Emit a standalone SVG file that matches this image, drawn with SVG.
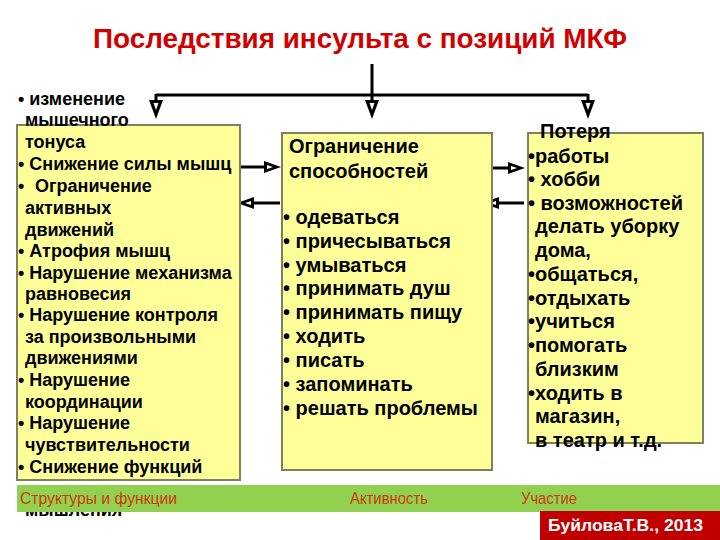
<svg xmlns="http://www.w3.org/2000/svg" width="720" height="540" viewBox="0 0 720 540">
<defs>
<style>
.box{fill:#FFFF99;stroke:#808060;stroke-width:2}
.t18{font-family:"Liberation Sans",Arial,sans-serif;font-size:18px;font-weight:bold;fill:#000}
.t20{font-family:"Liberation Sans",Arial,sans-serif;font-size:20px;font-weight:bold;fill:#000}
.ft{font-family:"Liberation Sans",Arial,sans-serif;font-size:17px;fill:#CC3A10}
.ln{fill:none;stroke:#000;stroke-width:3}
</style>
<marker id="ah" markerUnits="userSpaceOnUse" orient="auto" refX="0" refY="0" markerWidth="20" markerHeight="14" viewBox="0 -7 20 14" overflow="visible">
<path d="M0,-6 L17,0 L0,6 Z" fill="#000"/>
<path d="M3,-2 L9,0 L3,2 Z" fill="#fff"/>
</marker>
<marker id="ahd" markerUnits="userSpaceOnUse" orient="auto" refX="0" refY="0" markerWidth="20" markerHeight="16" viewBox="0 -8 20 16" overflow="visible">
<path d="M0,-7 L19,0 L0,7 Z" fill="#000"/>
<path d="M3,-2.5 L10,0 L3,2.5 Z" fill="#fff"/>
</marker>
</defs>
<rect width="720" height="540" fill="#fff"/>

<g id="title">
<text x="360" y="48" text-anchor="middle" textLength="534" lengthAdjust="spacingAndGlyphs" style="font-family:'Liberation Sans',Arial,sans-serif;font-size:27px;font-weight:bold;fill:#D00000">Последствия инсульта с позиций МКФ</text>
</g>

<g id="connectors">
<path class="ln" d="M372,64 V95"/>
<path class="ln" d="M156,95 H588"/>
<path class="ln" d="M156,94 V100" marker-end="url(#ahd)"/>
<path class="ln" d="M372,94 V100" marker-end="url(#ahd)"/>
<path class="ln" d="M588,94 V100" marker-end="url(#ahd)"/>
<path class="ln" d="M240,167 H264" marker-end="url(#ah)"/>
<path class="ln" d="M280,203 H254" marker-end="url(#ah)"/>
<path class="ln" d="M492,168 H508" marker-end="url(#ah)"/>
<path class="ln" d="M524,203 H499" marker-end="url(#ah)"/>
</g>

<g id="left-box">
<text class="t18" x="25" y="516">мышления</text>
<rect class="box" x="17" y="125" width="223" height="355"/>
<text class="t18" x="18" y="105">• изменение</text>
<text class="t18" x="25" y="126">мышечного</text>
<text class="t18" x="25" y="148">тонуса</text>
<text class="t18" x="18" y="170">• Снижение силы мышц</text>
<text class="t18" x="18" y="192">•</text>
<text class="t18" x="35" y="192">Ограничение</text>
<text class="t18" x="25" y="214">активных</text>
<text class="t18" x="25" y="236">движений</text>
<text class="t18" x="18" y="257">• Атрофия мышц</text>
<text class="t18" x="18" y="279">• Нарушение механизма</text>
<text class="t18" x="25" y="300">равновесия</text>
<text class="t18" x="18" y="321">• Нарушение контроля</text>
<text class="t18" x="25" y="343">за произвольными</text>
<text class="t18" x="25" y="364">движениями</text>
<text class="t18" x="18" y="386">• Нарушение</text>
<text class="t18" x="25" y="408">координации</text>
<text class="t18" x="18" y="429">• Нарушение</text>
<text class="t18" x="25" y="451">чувствительности</text>
<text class="t18" x="18" y="473">• Снижение функций</text>
</g>

<g id="middle-box">
<rect class="box" x="282" y="133" width="210" height="337"/>
<text class="t20" x="289" y="153">Ограничение</text>
<text class="t20" x="289" y="178">способностей</text>
<text class="t20" x="283" y="224">• одеваться</text>
<text class="t20" x="283" y="248">• причесываться</text>
<text class="t20" x="283" y="272">• умываться</text>
<text class="t20" x="283" y="295">• принимать душ</text>
<text class="t20" x="283" y="319">• принимать пищу</text>
<text class="t20" x="283" y="343">• ходить</text>
<text class="t20" x="283" y="367">• писать</text>
<text class="t20" x="283" y="391">• запоминать</text>
<text class="t20" x="283" y="415">• решать проблемы</text>
</g>

<g id="right-box">
<rect class="box" x="528" y="133" width="175" height="310"/>
<text class="t20" x="540" y="138">Потеря</text>
<text class="t20" x="528" y="163">•работы</text>
<text class="t20" x="528" y="186">• хобби</text>
<text class="t20" x="528" y="210">• возможностей</text>
<text class="t20" x="535" y="233">делать уборку</text>
<text class="t20" x="535" y="257">дома,</text>
<text class="t20" x="528" y="281">•общаться,</text>
<text class="t20" x="528" y="305">•отдыхать</text>
<text class="t20" x="528" y="328">•учиться</text>
<text class="t20" x="528" y="352">•помогать</text>
<text class="t20" x="535" y="376">близким</text>
<text class="t20" x="528" y="400">•ходить в</text>
<text class="t20" x="535" y="423">магазин,</text>
<text class="t20" x="535" y="447">в театр и т.д.</text>
</g>

<g id="footer-band">
<rect x="17" y="485" width="703" height="27" fill="#92D050"/>
<text class="ft" x="20" y="504" textLength="157" lengthAdjust="spacingAndGlyphs">Структуры  и функции</text>
<text class="ft" x="350" y="504" textLength="78" lengthAdjust="spacingAndGlyphs">Активность</text>
<text class="ft" x="521" y="504" textLength="56" lengthAdjust="spacingAndGlyphs">Участие</text>
</g>

<g id="author">
<rect x="540" y="511" width="180" height="29" fill="#C00000"/>
<text x="548" y="531" textLength="155" lengthAdjust="spacingAndGlyphs" style="font-family:'Liberation Sans',Arial,sans-serif;font-size:17px;font-weight:bold;fill:#fff">БуйловаТ.В., 2013</text>
</g>
</svg>
